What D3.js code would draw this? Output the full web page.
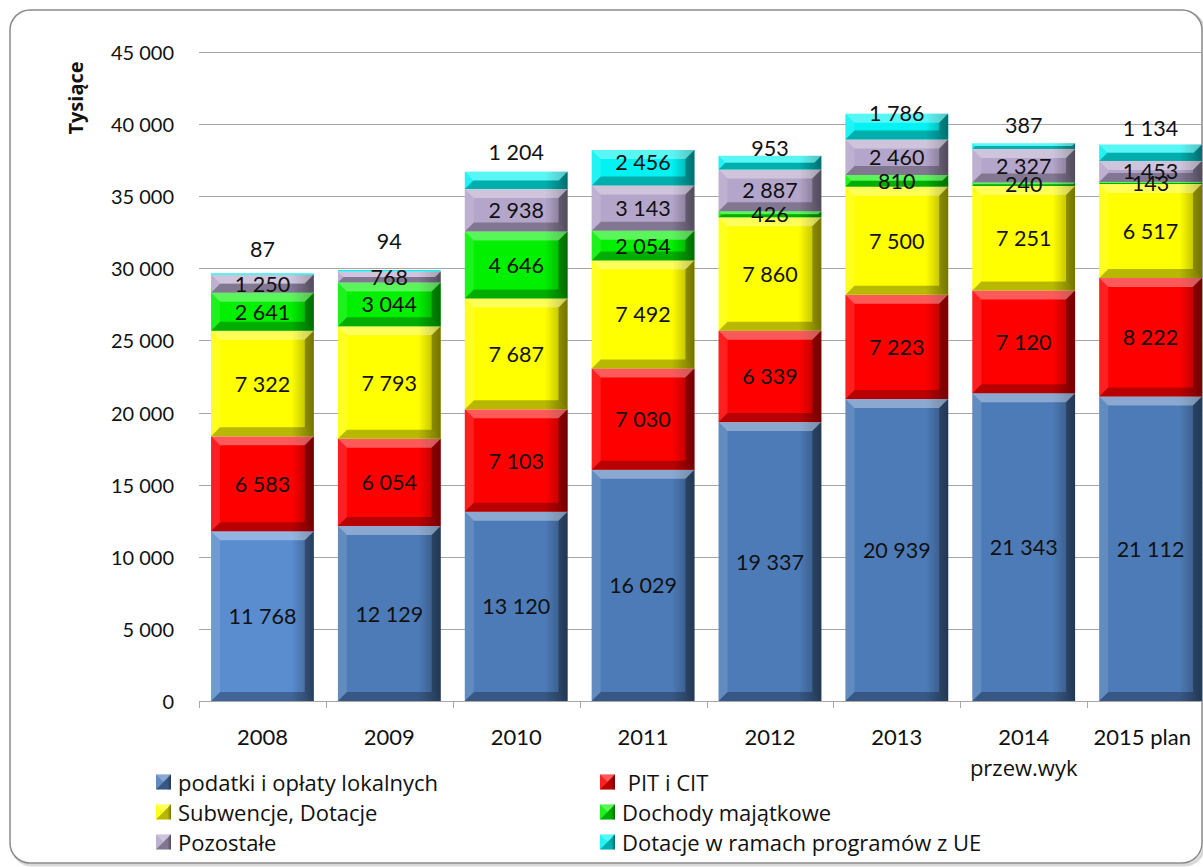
<!DOCTYPE html>
<html>
<head>
<meta charset="utf-8">
<script src="https://cdn.jsdelivr.net/npm/d3@7"></script>
<style>
  html, body { margin: 0; padding: 0; background: #fff; }
  svg { display: block; }
</style>
</head>
<body>
<div id="chart"></div>
<script>
// chart data
const years = ["2008", "2009", "2010", "2011", "2012", "2013", "2014", "2015 plan"];
const yearSub = ["", "", "", "", "", "", "przew.wyk", ""];
const seriesNames = [
  "podatki i opłaty lokalnych",
  " PIT i CIT",
  "Subwencje, Dotacje",
  "Dochody majątkowe",
  "Pozostałe",
  "Dotacje w ramach programów z UE"
];
const podatki = [11768, 12129, 13120, 16029, 19337, 20939, 21343, 21112];
const pitCit = [6583, 6054, 7103, 7030, 6339, 7223, 7120, 8222];
const subwencje = [7322, 7793, 7687, 7492, 7860, 7500, 7251, 6517];
const majatkowe = [2641, 3044, 4646, 2054, 426, 810, 240, 143];
const pozostale = [1250, 768, 2938, 3143, 2887, 2460, 2327, 1453];
const ue = [87, 94, 1204, 2456, 953, 1786, 387, 1134];
const yTicks = [0, 5000, 10000, 15000, 20000, 25000, 30000, 35000, 40000, 45000];

const seriesValues = [podatki, pitCit, subwencje, majatkowe, pozostale, ue];
const colors = ["#4d7bb7", "#ff0000", "#ffff00", "#00f000", "#b4a6ca", "#00f2f2"];
// the UE labels were hand-placed in the original, relative to the bar top
const ueLabelDy = [-24, -29, -20, 12, -8, -1, -18, -17];

const width = 1203, height = 867;
const numFont = "Lato, 'Open Sans', sans-serif";
const txtFont = "'Open Sans', Lato, sans-serif";

const svg = d3.select("#chart").append("svg")
  .attr("width", width)
  .attr("height", height);

const defs = svg.append("defs");
const grad = defs.append("linearGradient").attr("id", "side").attr("x1", 0).attr("x2", 1).attr("y1", 0).attr("y2", 0);
grad.append("stop").attr("offset", "0").attr("stop-color", "#000").attr("stop-opacity", 0);
grad.append("stop").attr("offset", "0.78").attr("stop-color", "#000").attr("stop-opacity", 0);
grad.append("stop").attr("offset", "1").attr("stop-color", "#000").attr("stop-opacity", 0.35);

// frame
svg.append("rect")
  .attr("x", 12).attr("y", 12).attr("width", 1192).attr("height", 853).attr("rx", 20)
  .attr("fill", "none").attr("stroke", "#d8d8d8").attr("stroke-width", 3);
svg.append("rect")
  .attr("x", 10).attr("y", 10).attr("width", 1192).attr("height", 853).attr("rx", 20)
  .attr("fill", "#fff").attr("stroke", "#8a8a8a").attr("stroke-width", 1.5);

// scales
const x = d3.scaleBand()
  .domain(years)
  .range([199, 1214])
  .paddingInner(0.19)
  .paddingOuter(0.095);

const y = d3.scaleLinear()
  .domain([0, 45000])
  .range([701, 52]);

const fmt = v => d3.format(",")(v).replace(/,/g, " ");

// gridlines
svg.append("g").selectAll("line")
  .data(yTicks.filter(d => d > 0))
  .join("line")
  .attr("x1", 199).attr("x2", width)
  .attr("y1", d => Math.round(y(d)) + 0.5).attr("y2", d => Math.round(y(d)) + 0.5)
  .attr("stroke", "#a6a6a6").attr("stroke-width", 1);

// y tick labels
svg.append("g").selectAll("text")
  .data(yTicks)
  .join("text")
  .attr("x", 174)
  .attr("y", d => y(d))
  .attr("text-anchor", "end")
  .attr("dominant-baseline", "central")
  .style("font-family", numFont)
  .style("font-size", "20px")
  .attr("fill", "#111")
  .text(fmt);

// y title
svg.append("text")
  .attr("transform", "translate(83,98) rotate(-90)")
  .attr("text-anchor", "middle")
  .style("font-family", txtFont)
  .style("font-size", "20px")
  .style("font-weight", "bold")
  .attr("fill", "#111")
  .text("Tysiące");

// bevelled block like the Excel 3D look
function bevel(g, bx, by, w, h, color, size) {
  const b = Math.min(size, h / 2, w / 2);
  g.append("rect").attr("x", bx).attr("y", by).attr("width", w).attr("height", h).attr("fill", color);
  if (h < 2) return;
  g.append("rect").attr("x", bx).attr("y", by).attr("width", w).attr("height", h).attr("fill", "url(#side)");
  const poly = (pts, fill, op) => g.append("polygon")
    .attr("points", pts.map(p => p.join(",")).join(" "))
    .attr("fill", fill).attr("fill-opacity", op);
  poly([[bx, by], [bx + w, by], [bx + w - b, by + b], [bx + b, by + b]], "#fff", 0.35);
  poly([[bx, by + h], [bx + w, by + h], [bx + w - b, by + h - b], [bx + b, by + h - b]], "#000", 0.28);
  poly([[bx, by], [bx + b, by + b], [bx + b, by + h - b], [bx, by + h]], "#fff", 0.12);
  poly([[bx + w, by], [bx + w - b, by + b], [bx + w - b, by + h - b], [bx + w, by + h]], "#000", 0.3);
}

// stacked bars
const bars = svg.append("g");
const labels = svg.append("g");
years.forEach((yr, i) => {
  let base = 0;
  seriesValues.forEach((vals, s) => {
    const v = vals[i];
    const y0 = y(base), y1 = y(base + v);
    let col = colors[s];
    if (s === 0 && i === 0) col = "#5a8dd0";
    bevel(bars, x(yr), y1, x.bandwidth(), y0 - y1, col, 9);
    let ly = (y0 + y1) / 2;
    if (s === 5) ly = y1 + ueLabelDy[i];
    labels.append("text")
      .attr("x", x(yr) + x.bandwidth() / 2)
      .attr("y", ly)
      .attr("text-anchor", "middle")
      .attr("dominant-baseline", "central")
      .style("font-family", numFont)
      .style("font-size", "21.5px")
      .attr("fill", "#111")
      .text(fmt(v));
    base += v;
  });
});

// x axis
svg.append("line")
  .attr("x1", 199).attr("x2", width).attr("y1", 701.5).attr("y2", 701.5)
  .attr("stroke", "#a6a6a6");
svg.append("g").selectAll("line")
  .data(d3.range(years.length + 1))
  .join("line")
  .attr("x1", i => Math.round(x.range()[0] + i * x.step()) + 0.5)
  .attr("x2", i => Math.round(x.range()[0] + i * x.step()) + 0.5)
  .attr("y1", 701).attr("y2", 708)
  .attr("stroke", "#a6a6a6");

const xl = svg.append("g").selectAll("text")
  .data(years)
  .join("text")
  .attr("x", d => x(d) + x.bandwidth() / 2)
  .attr("y", 736)
  .attr("text-anchor", "middle")
  .attr("dominant-baseline", "central")
  .style("font-family", numFont)
  .style("font-size", "22px")
  .attr("fill", "#111")
  .text(d => d);
// keep the last label inside the picture
xl.each(function () {
  const bb = this.getBBox();
  if (bb.x + bb.width > width - 12) d3.select(this).attr("x", +d3.select(this).attr("x") - (bb.x + bb.width - (width - 12)));
});
svg.append("g").selectAll("text")
  .data(years.filter((d, i) => yearSub[i]))
  .join("text")
  .attr("x", d => x(d) + x.bandwidth() / 2)
  .attr("y", 767)
  .attr("text-anchor", "middle")
  .attr("dominant-baseline", "central")
  .style("font-family", txtFont)
  .style("font-size", "22px")
  .attr("fill", "#111")
  .text(d => yearSub[years.indexOf(d)]);

// legend
const legend = svg.append("g");
seriesNames.forEach((name, s) => {
  const col = s % 2, row = Math.floor(s / 2);
  const lx = col === 0 ? 156 : 600;
  const ly = 782 + row * 30;
  const item = legend.append("g");
  bevel(item, lx, ly - 7.5, 15, 15, colors[s], 7.5);
  item.append("text")
    .attr("x", lx + 22)
    .attr("y", ly)
    .attr("dominant-baseline", "central")
    .style("font-family", txtFont)
    .style("font-size", "22px")
    .style("white-space", "pre")
    .attr("xml:space", "preserve")
    .attr("fill", "#111")
    .text(name);
});
</script>
</body>
</html>
